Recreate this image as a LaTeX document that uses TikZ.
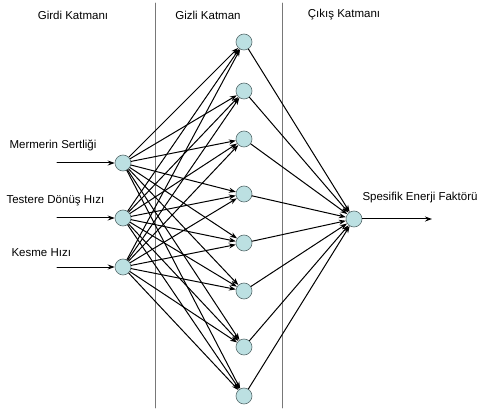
\documentclass[tikz,border=0pt]{standalone}
\usepackage{fontspec}
\setmainfont{Liberation Sans}
\usetikzlibrary{arrows.meta}

\definecolor{nodofill}{RGB}{188,224,226}
\definecolor{nodobordo}{RGB}{90,110,112}
\definecolor{divisore}{RGB}{120,120,120}

\begin{document}
\begin{tikzpicture}[x=1pt, y=-1pt, >={Stealth[length=7pt,width=5pt]}, line cap=round, line join=round,
    nodo/.style={circle, draw=nodobordo, fill=nodofill, line width=0.6pt, minimum size=16pt, inner sep=0pt},
    conn/.style={->, line width=1pt},
    etichetta/.style={font=\fontsize{11.5}{13}\selectfont}]

    \useasboundingbox (0,0) rectangle (477,409);

    % Divisori
    \draw[divisore, line width=0.9pt] (155.5,3) -- (155.5,408);
    \draw[divisore, line width=0.9pt] (282,3) -- (282,408);

    % Intestazioni
    \node[etichetta] (tgirdi) at (73,15) {Girdi Katmanı};
    \node[etichetta] (tgizli) at (208,15) {Gizli Katman};
    \node[etichetta] (tcikis) at (344,15) {Çıkış Katmanı};

    % Nodi di ingresso
    \node[nodo] (in1) at (123,163) {};
    \node[nodo] (in2) at (123,218) {};
    \node[nodo] (in3) at (123,267) {};

    % Nodi nascosti
    \foreach \i/\y in {1/42, 2/91, 3/139, 4/194, 5/243, 6/291, 7/347, 8/396}
        \node[nodo] (hid\i) at (244,\y) {};

    % Nodo di uscita
    \node[nodo] (out) at (354,219) {};

    % Ingressi
    \coordinate (a1) at (57,163);
    \coordinate (a2) at (57,218);
    \coordinate (a3) at (57,267);
    \foreach \i in {1,2,3}
        \draw[conn] (a\i) -- (in\i);
    \node[etichetta, anchor=west] (lab1) at (6,145) {Mermerin Sertliği};
    \node[etichetta, anchor=west] (lab2) at (3,201) {Testere Dönüş Hızı};
    \node[etichetta, anchor=west] (lab3) at (8,253) {Kesme Hızı};

    % Collegamenti
    \foreach \i in {1,2,3}
        \foreach \j in {1,...,8}
            \draw[conn] (in\i) -- (hid\j);
    \foreach \j in {1,...,8}
        \draw[conn] (hid\j) -- (out);

    % Uscita
    \coordinate (b) at (432,219);
    \draw[conn] (out) -- (b);
    \node[etichetta, anchor=west] (labout) at (359,198) {Spesifik Enerji Faktörü};

\end{tikzpicture}
\end{document}
